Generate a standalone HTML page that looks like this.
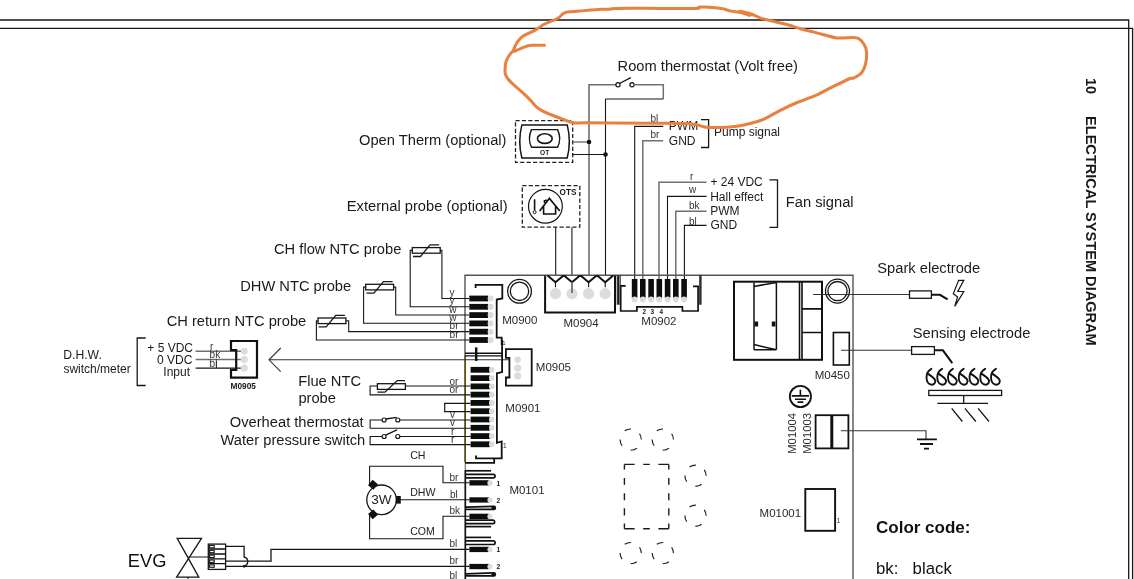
<!DOCTYPE html>
<html><head><meta charset="utf-8">
<style>
html,body{margin:0;padding:0;background:#fff;width:1134px;height:579px;overflow:hidden}
svg{display:block;position:absolute;left:0;top:0;will-change:transform}
text{font-family:"Liberation Sans",sans-serif;fill:#1a1a1a}
.b{stroke:#161616;stroke-width:1.1;fill:none}
.g{stroke:#707070;stroke-width:1.8;fill:none}
.k{stroke:#111;stroke-width:1.8;fill:none}
.t{stroke:#111;stroke-width:2.4;fill:none}
.pin{fill:#0d0d0d}
.gc{fill:#dcdcdc}
.d{stroke:#222;stroke-width:1.3;fill:none;stroke-dasharray:4.2 2.2}
.L{font-size:14.7px}
.M{font-size:11.5px;fill:#2a2a2a}
.S{font-size:12px}
.w{font-size:10px;fill:#333}
</style></head><body>
<svg width="1134" height="579" viewBox="0 0 1134 579">
<!-- page borders -->
<path class="b" style="stroke-width:1.3" d="M0 20H1128.7V579"/>
<path class="b" style="stroke-width:1.3" d="M0 28.3H1132.6V579"/>
<text transform="translate(1086.2,78) rotate(90)" style="font-size:14.5px;font-weight:bold">10</text>
<text transform="translate(1086.2,116) rotate(90)" style="font-size:14.58px;font-weight:bold">ELECTRICAL SYSTEM DIAGRAM</text>

<!-- BOARD_START -->
<!-- top texts -->
<text class="L" x="617.6" y="71.2">Room thermostat (Volt free)</text>
<text class="L" x="359" y="145">Open Therm (optional)</text>
<text class="L" x="346.8" y="211">External probe (optional)</text>
<!-- room thermostat wiring -->
<path class="g" style="stroke-width:1.6" d="M589 275V84.8H616"/>
<circle cx="618" cy="84.8" r="2.1" class="b" style="stroke-width:1.2"/>
<circle cx="632" cy="84.8" r="2.1" class="b" style="stroke-width:1.2"/>
<path class="b" style="stroke-width:1.3" d="M619.5 83.5L630.8 77.6"/>
<path class="g" style="stroke-width:1.5" d="M634.2 84.8H663.3V99"/><path class="b" style="stroke-width:1.2" d="M663.3 99H605.3"/>
<path class="b" d="M605.5 99V275"/>
<!-- OT device -->
<rect class="d" x="515.5" y="120.7" width="57.2" height="41.7"/>
<path class="b" style="stroke-width:1.5" d="M521.9 124.9H567.2Q571.5 141.5 567.2 158H521.9Q517.6 141.5 521.9 124.9Z"/>
<path class="b" style="stroke-width:1.4" d="M531.5 129.6H557.6Q561.8 138.5 557.6 147.3H531.5Q527.3 138.5 531.5 129.6Z"/>
<ellipse cx="544.8" cy="138.6" rx="7.4" ry="4.8" class="b" style="stroke-width:1.6"/>
<text x="540" y="154.8" style="font-size:6.6px;font-weight:bold">OT</text>
<path class="g" style="stroke-width:1.4" d="M572.7 142H589"/>
<path class="b" d="M572.7 154.5H605.5"/>
<circle cx="589" cy="142" r="2.3" fill="#111"/>
<circle cx="605.5" cy="154.5" r="2.3" fill="#111"/>
<!-- OTS device -->
<rect class="d" x="522.3" y="185.6" width="57.5" height="41.6"/>
<circle cx="545.4" cy="206.3" r="16.9" class="b" style="stroke-width:1.2"/>
<path class="k" style="stroke-width:1.6" d="M534.6 199.3V210.5"/>
<circle cx="534.6" cy="212.2" r="1.5" class="b" style="stroke-width:1"/>
<path class="k" style="stroke-width:1.6" d="M539.6 211L549.4 198.4L559.8 211M543.6 205.5V214H555.6V205.5M544.5 203V200M546 201V199.5"/>
<text x="559.6" y="194.6" style="font-size:8.2px;font-weight:bold">OTS</text>
<path class="b" d="M555.7 227.2V275"/>
<path class="g" d="M571.9 227.2V275"/>
<!-- pump signal -->
<path class="b" d="M634.7 279V126.4H663.2"/>
<path class="g" style="stroke-width:1.5" d="M642.8 279V140.7H663.2"/>
<text class="w" x="650.5" y="121.7">bl</text>
<text class="w" x="650.5" y="138.3">br</text>
<text class="S" x="668.8" y="129.6">PWM</text>
<text class="S" x="668.8" y="144.7">GND</text>
<path class="b" style="stroke-width:1.3" d="M701 119.6H708.6V147.5H701"/>
<text class="S" x="714" y="136">Pump signal</text>
<!-- fan signal -->
<path class="g" style="stroke-width:1.5" d="M659 279V182.2H706.5"/>
<path class="b" d="M667.5 279V196.4H706.5"/>
<path class="g" style="stroke-width:1.5" d="M675.8 279V211.2H706.5"/>
<path class="b" d="M684.4 279V225.4H706.5"/>
<text class="w" x="690" y="180.2">r</text>
<text class="w" x="689" y="193.4">w</text>
<text class="w" x="689" y="209.2">bk</text>
<text class="w" x="689" y="224.8">bl</text>
<text class="S" x="710.4" y="186.3">+ 24 VDC</text>
<text class="S" x="710.2" y="201.1">Hall effect</text>
<text class="S" x="710.2" y="214.7">PWM</text>
<text class="S" x="710.4" y="228.9">GND</text>
<path class="b" style="stroke-width:1.3" d="M769.4 179.8H777.5V227.3H769.4"/>
<text class="L" x="785.8" y="206.6">Fan signal</text>

<!-- board outline -->
<path class="g" style="stroke-width:1.4;stroke:#555" d="M465 354.7V275.2H853V579"/>
<path style="stroke:#585018;stroke-width:1.8;fill:none" d="M465.1 354.7V462.3"/>
<path class="g" style="stroke-width:1.4;stroke:#888" d="M465.3 462.3V470"/>
<!-- NTC probes -->
<text class="L" x="274" y="254.4">CH flow NTC probe</text>
<text class="L" x="240.2" y="291">DHW NTC probe</text>
<text class="L" x="166.7" y="325.9">CH return NTC probe</text>
<g id="ntc1">
<rect x="412.3" y="247.6" width="27.9" height="5.6" class="b" style="stroke-width:1.3"/>
<path class="b" style="stroke-width:1.3" d="M413 256.5H420.5L430 244.9H439.2"/>
</g>
<use href="#ntc1" x="-46.6" y="36.7"/>
<use href="#ntc1" x="-94.3" y="70.4"/>
<path class="b" d="M440.2 250.4H441.9V298.5H469"/>
<path class="b" d="M412.3 250.4H410.2V306.8H469"/>
<path class="b" d="M393.6 287.1H395.7V315H469"/>
<path class="b" d="M365.7 287.1H363.6V323.3H469"/>
<path class="b" d="M345.9 320.8H348.7V331.6H469"/>
<path class="b" d="M318 320.8H316.4V340H469"/>
<text class="w" x="449.5" y="296">y</text>
<text class="w" x="449.5" y="304.3">y</text>
<text class="w" x="449.3" y="312.7">w</text>
<text class="w" x="449.3" y="321">w</text>
<text class="w" x="449.6" y="329.3">br</text>
<text class="w" x="449.6" y="337.7">br</text>
<!-- M0900 -->
<g id="pins6">
<rect class="pin" x="469.3" y="295.6" width="18.8" height="5.8"/>
<rect class="pin" x="469.3" y="303.9" width="18.8" height="5.8"/>
<rect class="pin" x="469.3" y="312.2" width="18.8" height="5.8"/>
<rect class="pin" x="469.3" y="320.5" width="18.8" height="5.8"/>
<rect class="pin" x="469.3" y="328.8" width="18.8" height="5.8"/>
<rect class="pin" x="469.3" y="337.1" width="18.8" height="5.8"/>
</g>
<g class="gc">
<circle cx="490.6" cy="298.5" r="3"/><circle cx="490.6" cy="306.8" r="3"/><circle cx="490.6" cy="315.1" r="3"/>
<circle cx="490.6" cy="323.4" r="3"/><circle cx="490.6" cy="331.7" r="3"/><circle cx="490.6" cy="340" r="3"/>
</g>
<path class="k" d="M475.6 288V284.8H502.3V298.5L496.7 299.5V337.7H501.7V345"/>
<text x="502.3" y="345" style="font-size:6px;fill:#222">1</text>
<circle cx="519.5" cy="291.3" r="11.9" class="b" style="stroke-width:1.3"/>
<circle cx="519.5" cy="291.3" r="9.2" class="b" style="stroke-width:1.3"/>
<text class="M" x="502.2" y="323.8">M0900</text>
<!-- M0904 -->
<path class="t" style="stroke-width:2" d="M545.1 275.5V312.6H615V275.5"/>
<path class="b" d="M617.3 275.5V304.8M618.6 275.5V304.8"/>
<g class="gc"><circle cx="555.5" cy="293.6" r="5.6"/><circle cx="572" cy="293.6" r="5.6"/><circle cx="588.6" cy="293.6" r="5.6"/><circle cx="605.2" cy="293.6" r="5.6"/></g>
<path class="k" style="stroke-width:2" d="M547.5 275.5L555.5 282.2L563.5 275.5M564 275.5L572 282.2L580 275.5M580.6 275.5L588.6 282.2L596.6 275.5M597.2 275.5L605.2 282.2L613.2 275.5"/>
<path class="b" d="M555.5 282V287.3M605.2 282V287.3M588.6 282V287.3"/>
<path class="g" d="M572 282V293"/>
<text class="M" x="563.5" y="326.7">M0904</text>
<!-- M0902 -->
<path class="k" style="stroke-width:1.7" d="M625.7 285.8H620.7V311H636.9V306.8H682.4V311H698.1V286.3H693"/>
<path class="b" d="M620.1 275.5V304.8M699.8 275.5V304.8M701 275.5V304.8"/>
<g class="pin">
<rect x="631.8" y="279" width="5.6" height="18.8"/><rect x="640" y="279" width="5.6" height="18.8"/><rect x="648.3" y="279" width="5.6" height="18.8"/>
<rect x="656.5" y="279" width="5.6" height="18.8"/><rect x="664.8" y="279" width="5.6" height="18.8"/><rect x="673" y="279" width="5.6" height="18.8"/>
<rect x="681.3" y="279" width="5.6" height="18.8"/>
</g>
<g class="gc">
<circle cx="634.6" cy="299.5" r="2.9"/><circle cx="642.8" cy="299.5" r="2.9"/><circle cx="651.1" cy="299.5" r="2.9"/><circle cx="659.3" cy="299.5" r="2.9"/>
<circle cx="667.6" cy="299.5" r="2.9"/><circle cx="675.8" cy="299.5" r="2.9"/><circle cx="684.1" cy="299.5" r="2.9"/>
</g>
<text x="642.4" y="313.6" style="font-size:6.4px;font-weight:bold">2</text>
<text x="650.6" y="313.6" style="font-size:6.4px;font-weight:bold">3</text>
<text x="659.6" y="313.6" style="font-size:6.4px;font-weight:bold">4</text>
<text class="M" x="641.3" y="325">M0902</text>
<!-- transformer -->
<rect x="734" y="281.7" width="88" height="78.1" class="k" style="stroke-width:2"/>
<path class="k" style="stroke-width:1.6" d="M799.5 281.7V359.8M802 281.7V359.8"/>
<path class="k" style="stroke-width:1.7" d="M801.9 308.8H822M801.9 332.5H822"/>
<path class="k" style="stroke-width:1.5" d="M754 282.4V349.8M776.4 282.4V349.8M754 286.4L776.4 282.4M754 344.6L776.4 349.8M754 349.8H776.4"/>
<rect x="754.5" y="321.5" width="3.6" height="5" fill="#111"/>
<rect x="771.8" y="321.5" width="3.6" height="5" fill="#111"/>
<circle cx="837.5" cy="291.1" r="12" class="b" style="stroke-width:1.3"/>
<circle cx="837.5" cy="291.1" r="9.6" class="b" style="stroke-width:1.3"/>
<path class="b" style="stroke:#333" d="M813 294.5H909.5"/>
<rect x="833.4" y="332.5" width="15.9" height="32.5" class="k" style="stroke-width:1.6"/>
<path class="b" style="stroke:#333" d="M841 350.3H911.6"/>
<text class="M" x="814.7" y="378.7">M0450</text>
<!-- spark electrode -->
<text class="L" x="877.3" y="273.3">Spark electrode</text>
<rect x="909.5" y="290.9" width="21.9" height="7.4" class="b" style="stroke-width:1.3"/>
<path class="k" style="stroke-width:2" d="M931.4 294.8H939.9L947.6 299.3"/>
<path class="b" style="stroke-width:1.2" d="M958.6 280.3H963.8L957.8 291.5H963.8L954.7 306.4L957.6 297L953.3 293.7Z"/>
<!-- sensing electrode -->
<text class="L" x="912.8" y="338">Sensing electrode</text>
<rect x="911.6" y="346.6" width="22.8" height="7.8" class="b" style="stroke-width:1.3"/>
<path class="k" style="stroke-width:2" d="M934.4 350.3H942.9L952.3 363.2"/>
<!-- flames -->
<path class="k" style="stroke-width:1.9;stroke-linecap:round" d="M931.40 368.8C928.30 370.5 926.50 373.3 926.50 377.3C926.50 381.8 928.80 384.7 931.80 384.7C934.30 384.7 935.40 382.6 935.30 380.6C935.10 378.6 933.10 377.4 927.70 373.6M942.15 368.8C939.05 370.5 937.25 373.3 937.25 377.3C937.25 381.8 939.55 384.7 942.55 384.7C945.05 384.7 946.15 382.6 946.05 380.6C945.85 378.6 943.85 377.4 938.45 373.6M952.90 368.8C949.80 370.5 948.00 373.3 948.00 377.3C948.00 381.8 950.30 384.7 953.30 384.7C955.80 384.7 956.90 382.6 956.80 380.6C956.60 378.6 954.60 377.4 949.20 373.6M963.65 368.8C960.55 370.5 958.75 373.3 958.75 377.3C958.75 381.8 961.05 384.7 964.05 384.7C966.55 384.7 967.65 382.6 967.55 380.6C967.35 378.6 965.35 377.4 959.95 373.6M974.40 368.8C971.30 370.5 969.50 373.3 969.50 377.3C969.50 381.8 971.80 384.7 974.80 384.7C977.30 384.7 978.40 382.6 978.30 380.6C978.10 378.6 976.10 377.4 970.70 373.6M985.15 368.8C982.05 370.5 980.25 373.3 980.25 377.3C980.25 381.8 982.55 384.7 985.55 384.7C988.05 384.7 989.15 382.6 989.05 380.6C988.85 378.6 986.85 377.4 981.45 373.6M995.90 368.8C992.80 370.5 991.00 373.3 991.00 377.3C991.00 381.8 993.30 384.7 996.30 384.7C998.80 384.7 999.90 382.6 999.80 380.6C999.60 378.6 997.60 377.4 992.20 373.6"/>
<rect x="928.8" y="390.4" width="72.8" height="5.1" class="b" style="stroke-width:1.3"/>
<path class="b" style="stroke-width:1.3" d="M963.7 395.5V403.4M937.3 403.4H988M951.7 408.3L962.3 421.5M964.9 408.3L975.8 421.5M978.1 408.3L989 421.5"/>
<!-- ground + M01003/4 -->
<circle cx="800.4" cy="396.5" r="10.6" class="k" style="stroke-width:1.8"/>
<path class="k" style="stroke-width:1.6" d="M800.4 389.7V395.9M791.7 395.9H809M795 399.3H806M797.5 402.1H803.3"/>
<text class="M" transform="translate(796.2,453.8) rotate(-90)" style="font-size:11.3px">M01004</text>
<text class="M" transform="translate(810.6,453.8) rotate(-90)" style="font-size:11.3px">M01003</text>
<rect x="815.6" y="415.2" width="32.8" height="33.2" class="k" style="stroke-width:1.8"/>
<path class="k" style="stroke-width:3" d="M831.8 415.2V448.4"/>
<path class="b" style="stroke:#333" d="M840.8 430.8H926V439.3"/>
<path class="k" style="stroke-width:1.8" d="M917 439.3H936.9M920 444H933M924 448.7H929"/>
<!-- M01001 -->
<rect x="805.3" y="489" width="29.8" height="41.8" class="k" style="stroke-width:1.9"/>
<text x="836.5" y="523" style="font-size:6.5px;fill:#222">1</text>
<text class="M" x="759.6" y="517.3">M01001</text>
<!-- color code -->
<text x="876" y="533.4" style="font-size:17px;font-weight:bold;fill:#111">Color code:</text>
<text x="876" y="573.7" style="font-size:16.8px;fill:#111">bk:</text>
<text x="912.6" y="573.7" style="font-size:16.8px;fill:#111">black</text>
<!-- dashed circles/rect -->
<g style="fill:none;stroke:#1a1a1a;stroke-width:1.15;stroke-dasharray:6.66 9.99;stroke-dashoffset:-10">
<circle cx="630.7" cy="439.6" r="10.6"/><circle cx="662.8" cy="439.6" r="10.6"/>
<circle cx="695.5" cy="475.7" r="10.6"/><circle cx="695.5" cy="515.7" r="10.6"/>
<circle cx="630.7" cy="553.1" r="10.6"/><circle cx="662.8" cy="553.1" r="10.6"/>
</g>
<path style="fill:none;stroke:#1a1a1a;stroke-width:1.4" d="M624.4 464.4H634.6M643.2 464.4H649.8M658.4 464.4H668.8M624.4 528.8H634.6M643.2 528.8H649.8M658.4 528.8H668.8M624.4 464.4V469.6M624.4 478V484.8M624.4 493.2V500.2M624.4 508.3V515.4M624.4 523.5V528.8M668.8 464.4V469.6M668.8 478V484.8M668.8 493.2V500.2M668.8 508.3V515.4M668.8 523.5V528.8"/>
<!-- DHW switch -->
<text x="63.2" y="359.2" style="font-size:12.2px">D.H.W.</text>
<text x="63.4" y="373.4" style="font-size:12px">switch/meter</text>
<path class="b" style="stroke-width:1.3" d="M145.7 338H137.2V385.5H145.7"/>
<text x="147.3" y="351.8" class="S">+ 5 VDC</text>
<text x="157" y="363.9" class="S">0 VDC</text>
<text x="163.3" y="376.1" class="S">Input</text>
<path class="g" style="stroke-width:1.5" d="M195.6 351.2H244"/>
<path class="g" style="stroke-width:1.5" d="M195.6 359.6H244"/>
<path class="b" d="M195.6 368.1H244"/>
<path class="b" style="stroke-width:1" d="M216.4 361.2V368.2"/>
<text class="w" x="210" y="349.5">r</text>
<text class="w" x="209.6" y="358">bk</text>
<text class="w" x="209.6" y="366.5">bl</text>
<path class="t" style="stroke-width:2.2" d="M231 350.1V341H257V377.6H231V369.8H236.2V350.1Z"/>
<g class="gc"><circle cx="244.3" cy="351.2" r="3.4"/><circle cx="244.3" cy="359.6" r="3.6"/><circle cx="244.3" cy="368.1" r="3.6"/></g>
<text x="230.6" y="389" style="font-size:8.3px;font-weight:bold">M0905</text>
<!-- arrow line -->
<path class="b" style="stroke:#333" d="M280.7 348L269 359.8L280.7 371.6M269 359.8H509.4"/>
<path class="k" style="stroke-width:1.4" d="M465 353.2H502.1M465 355.9H502.1"/>
<path class="k" style="stroke-width:2.4" d="M476.2 347.4V360.9"/>
<!-- M0905 board -->
<path class="k" style="stroke-width:1.8" d="M505.9 349.1H531.7V385.7H505.9V377.5H509.4V357.8H505.9Z"/>
<g class="gc"><circle cx="517.7" cy="359.8" r="3.2"/><circle cx="517.7" cy="368.1" r="3.6"/><circle cx="517.7" cy="376" r="3.6"/></g>
<text class="M" x="535.8" y="370.6">M0905</text>
<!-- M0901 -->
<g class="pin">
<rect x="470.6" y="366.9" width="19.1" height="5.8"/><rect x="470.6" y="375.2" width="19.1" height="5.8"/>
<rect x="470.6" y="383.5" width="19.1" height="5.8"/><rect x="470.6" y="391.7" width="19.1" height="5.8"/>
<rect x="470.6" y="400" width="19.1" height="5.8"/><rect x="470.6" y="408.3" width="19.1" height="5.8"/>
<rect x="470.6" y="416.6" width="19.1" height="5.8"/><rect x="470.6" y="424.9" width="19.1" height="5.8"/>
<rect x="470.6" y="433.2" width="19.1" height="5.8"/><rect x="470.6" y="441.4" width="19.1" height="5.8"/>
</g>
<g class="gc">
<circle cx="491.8" cy="369.8" r="2.8"/><circle cx="491.8" cy="378.1" r="2.8"/><circle cx="491.8" cy="386.4" r="2.8"/><circle cx="491.8" cy="394.6" r="2.8"/>
<circle cx="491.8" cy="402.9" r="2.8"/><circle cx="491.8" cy="411.2" r="2.8"/><circle cx="491.8" cy="419.5" r="2.8"/><circle cx="491.8" cy="427.8" r="2.8"/>
<circle cx="491.8" cy="436.1" r="2.8"/><circle cx="491.8" cy="444.3" r="2.8"/>
</g>
<path class="k" style="stroke-width:1.8" d="M502.1 340V372L496.9 373.3V442.9L501.7 441.5V458.3H476V455.4"/>
<text x="503" y="447.5" style="font-size:6.5px;fill:#222">1</text>
<path class="k" style="stroke-width:1.8" d="M465.1 462.8H494.2V458.3"/>
<text class="M" x="505.3" y="411.6">M0901</text>
<!-- flue NTC -->
<text class="L" x="298.2" y="385.8">Flue NTC</text>
<text class="L" x="298.4" y="403.2">probe</text>
<rect x="377.4" y="383.7" width="28" height="5.7" class="b" style="stroke-width:1.3"/>
<path class="b" style="stroke-width:1.3" d="M377.4 392.2H384.9L397.3 380.6H405"/>
<path class="b" d="M405.4 386H470.6M377.4 386H370.1V394.9H470.6"/>
<text class="w" x="449.5" y="384.8">or</text>
<text class="w" x="449.5" y="393.4">or</text>
<path class="b" style="stroke-width:1.2" d="M470.6 403.4H444.7V411.6H470.6"/>
<!-- switches -->
<text class="L" x="229.8" y="427.1">Overheat thermostat</text>
<text class="L" x="220.5" y="444.8">Water pressure switch</text>
<path class="b" d="M382 420H370.1V428.3H470.6M400 420H470.6"/>
<circle cx="384.1" cy="420" r="2" class="b" style="stroke-width:1.2"/>
<circle cx="397.8" cy="420" r="2" class="b" style="stroke-width:1.2"/>
<path class="b" style="stroke-width:1.3" d="M385.8 419L396.5 417.4"/>
<path class="b" d="M382 436.5H370.1V444.6H470.6M400 436.5H470.6"/>
<circle cx="384.1" cy="436.5" r="2" class="b" style="stroke-width:1.2"/>
<circle cx="397.8" cy="436.5" r="2" class="b" style="stroke-width:1.2"/>
<path class="b" style="stroke-width:1.3" d="M385.6 435.2L397 429.8"/>
<text class="w" x="450" y="418">v</text>
<text class="w" x="450" y="426.3">v</text>
<text class="w" x="451" y="434.5">r</text>
<text class="w" x="451" y="442.8">r</text>
<!-- 3W valve -->
<text x="410.2" y="459.3" style="font-size:10.6px;fill:#222">CH</text>
<text x="410.2" y="496.4" style="font-size:10.6px;fill:#222">DHW</text>
<text x="410.2" y="535.2" style="font-size:10.6px;fill:#222">COM</text>
<circle cx="381.6" cy="499.8" r="14.8" class="b" style="stroke-width:1.3"/>
<text x="381.4" y="504.3" text-anchor="middle" style="font-size:13.6px;fill:#222">3W</text>
<rect x="395.8" y="496" width="5" height="7.6" fill="#111"/>
<rect x="369.5" y="481.2" width="7" height="7" fill="#111" transform="rotate(40 373 484.7)"/>
<rect x="369.5" y="510.9" width="7" height="7" fill="#111" transform="rotate(-40 373 514.4)"/>
<path class="b" d="M369.6 484V466.3H443V482.7H469.5"/>
<path class="b" d="M400 499.8H469.5"/>
<path class="b" d="M369.6 515V538.7H443V516.2H469.5"/>
<text class="w" x="449.5" y="480.9">br</text>
<text class="w" x="450" y="498.2">bl</text>
<text class="w" x="449.5" y="514.4">bk</text>
<!-- M0101 -->
<g id="m0101">
<g class="pin">
<rect x="469.4" y="480.2" width="19.4" height="5.3"/><rect x="469.4" y="497.3" width="19.4" height="5.3"/><rect x="469.4" y="513.7" width="19.4" height="5.3"/>
</g>
<g class="gc"><circle cx="490" cy="482.9" r="2.6"/><circle cx="490" cy="500" r="2.6"/><circle cx="490" cy="516.4" r="2.6"/></g>
<g class="k" style="stroke-width:1.7">
<path d="M465.6 470.8H491.1"/>
<path d="M465.6 474.3H493.3A1.8 1.8 0 0 1 493.3 477.9H465.6"/>
<path d="M465.6 507.2L493.5 506.3M465.6 509.3H493.5"/>
<path d="M465.6 520.2H493.3A1.8 1.8 0 0 1 493.3 523.7H465.6"/>
<path d="M465.6 526.6H491.1"/>
</g>
<circle cx="493.8" cy="507.8" r="2.4" fill="#111"/>
<text x="496.5" y="485.6" style="font-size:6.6px;font-weight:bold">1</text>
<text x="496.5" y="502.7" style="font-size:6.6px;font-weight:bold">2</text>
</g>
<use href="#m0101" y="66.6"/>
<path class="k" style="stroke-width:1.7" d="M465.3 470V579"/>
<text class="M" x="509.4" y="493.6">M0101</text>
<!-- EVG -->
<text x="127.8" y="566.6" style="font-size:18.3px;fill:#111">EVG</text>
<path class="b" style="stroke-width:1.3" d="M177.2 538.3H201.5L176.6 577.1H198.8Z"/>
<path class="b" d="M188.5 557H208.3M188 577V579"/>
<rect x="208.3" y="544.1" width="17.3" height="25.3" class="b" style="stroke-width:1.3"/>
<path class="k" style="stroke-width:1.3" d="M208.3 549H225.6M208.3 554H225.6M208.3 558.8H225.6M208.3 563.7H225.6"/>
<g class="b" style="stroke-width:1.1"><rect x="209.6" y="545.4" width="4.6" height="2.4"/><rect x="209.6" y="550.3" width="4.6" height="2.4"/><rect x="209.6" y="555.1" width="4.6" height="2.4"/><rect x="209.6" y="560" width="4.6" height="2.4"/><rect x="209.6" y="564.9" width="4.6" height="2.4"/></g>
<path class="b" style="stroke-width:1.3" d="M225.6 546.4H244.1V557A4.6 4.6 0 0 1 244.1 566"/>
<circle cx="244.1" cy="566.3" r="1.4" fill="#111"/>
<path class="b" style="stroke-width:1.3" d="M225.6 561.2H271V549.3H469.5M225.6 566.3H469.5"/>
<text class="w" x="449.5" y="547">bl</text>
<text class="w" x="449.5" y="563.5">br</text>
<text class="w" x="449.5" y="579">bl</text>
<!-- BOARD_END -->

<!-- orange annotation -->
<path d="M750.0 15.4C748.3 14.9 742.8 13.0 739.6 12.3C736.4 11.6 734.1 11.8 731.0 11.1C727.9 10.4 724.8 9.1 721.1 8.4C717.4 7.8 712.5 7.4 708.8 7.2C705.1 7.0 701.0 7.0 698.9 7.2C696.8 7.4 702.9 8.2 696.4 8.4C689.9 8.6 673.4 8.4 660.0 8.4C646.6 8.4 624.5 8.2 616.2 8.4C607.9 8.6 613.1 9.1 610.0 9.3C606.9 9.5 602.8 9.1 597.7 9.4C592.6 9.7 584.6 10.7 579.6 11.1C574.6 11.5 570.3 11.6 567.5 12.1C564.7 12.6 564.1 13.0 562.7 13.9C561.3 14.8 560.6 16.4 559.0 17.5C557.4 18.6 555.6 19.3 553.0 20.5C550.4 21.7 546.1 23.3 543.3 24.8C540.5 26.3 538.3 28.3 536.1 29.6C533.9 30.9 532.2 31.5 530.0 32.6C527.8 33.7 524.8 34.9 522.8 36.3C520.8 37.7 519.3 39.4 518.0 41.1C516.7 42.8 515.7 44.9 514.9 46.5C514.1 48.1 514.0 49.4 513.1 50.8C512.2 52.2 510.6 53.4 509.5 55.0C508.4 56.6 507.2 58.6 506.5 60.4C505.8 62.2 505.5 63.8 505.3 66.0C505.1 68.2 504.8 71.7 505.3 73.9C505.8 76.1 506.8 77.4 508.3 79.3C509.8 81.2 511.7 83.0 514.3 85.4C516.9 87.8 521.2 91.2 524.0 93.8C526.8 96.4 529.2 98.9 531.3 101.1C533.4 103.3 534.7 105.4 536.7 107.1C538.7 108.8 540.8 110.1 543.3 111.4C545.8 112.7 548.6 113.7 551.8 115.0C555.0 116.3 559.1 117.9 562.7 119.2C566.3 120.5 569.7 122.2 573.5 122.8C577.3 123.4 578.8 122.8 585.6 122.8C592.5 122.8 603.9 123.0 614.6 123.1C625.3 123.2 637.4 123.2 650.0 123.3C662.6 123.4 681.0 123.1 690.0 123.7C699.0 124.3 699.4 126.3 704.1 126.9C708.8 127.5 713.0 127.6 718.2 127.5C723.4 127.4 729.5 127.2 735.1 126.5C740.8 125.8 747.4 124.2 752.1 123.0C756.8 121.8 758.7 121.5 763.4 119.4C768.1 117.3 774.7 113.1 780.3 110.3C785.9 107.5 791.1 105.1 797.2 102.5C803.3 99.9 811.4 97.3 817.0 94.8C822.6 92.3 825.6 90.4 831.1 87.7C836.6 85.0 846.3 80.1 850.0 78.5C853.7 76.9 851.4 79.2 853.3 78.2C855.2 77.2 859.5 75.2 861.6 72.7C863.7 70.2 865.0 66.5 865.8 63.0C866.6 59.5 866.7 55.0 866.5 52.0C866.3 49.0 866.0 47.5 864.4 45.1C862.8 42.8 861.4 39.1 856.8 37.9C852.2 36.7 843.5 38.8 836.7 37.9C829.9 37.0 821.8 34.1 816.0 32.6C810.2 31.2 806.8 30.5 802.2 29.2C797.6 27.9 793.0 26.3 788.4 25.0C783.8 23.7 779.1 22.8 774.5 21.6C769.9 20.5 764.6 19.4 760.7 18.1C756.8 16.8 754.6 15.2 751.1 14.0C747.6 12.8 741.9 11.7 740.0 11.2M544.5 45.3C542.3 45.3 534.7 45.0 531.3 45.3C527.9 45.6 526.8 46.1 524.0 47.1C521.2 48.1 515.9 50.7 514.3 51.4" style="fill:none;stroke:#E8803E;stroke-width:3;stroke-linecap:round;stroke-linejoin:round"/>
</svg>
</body></html>
